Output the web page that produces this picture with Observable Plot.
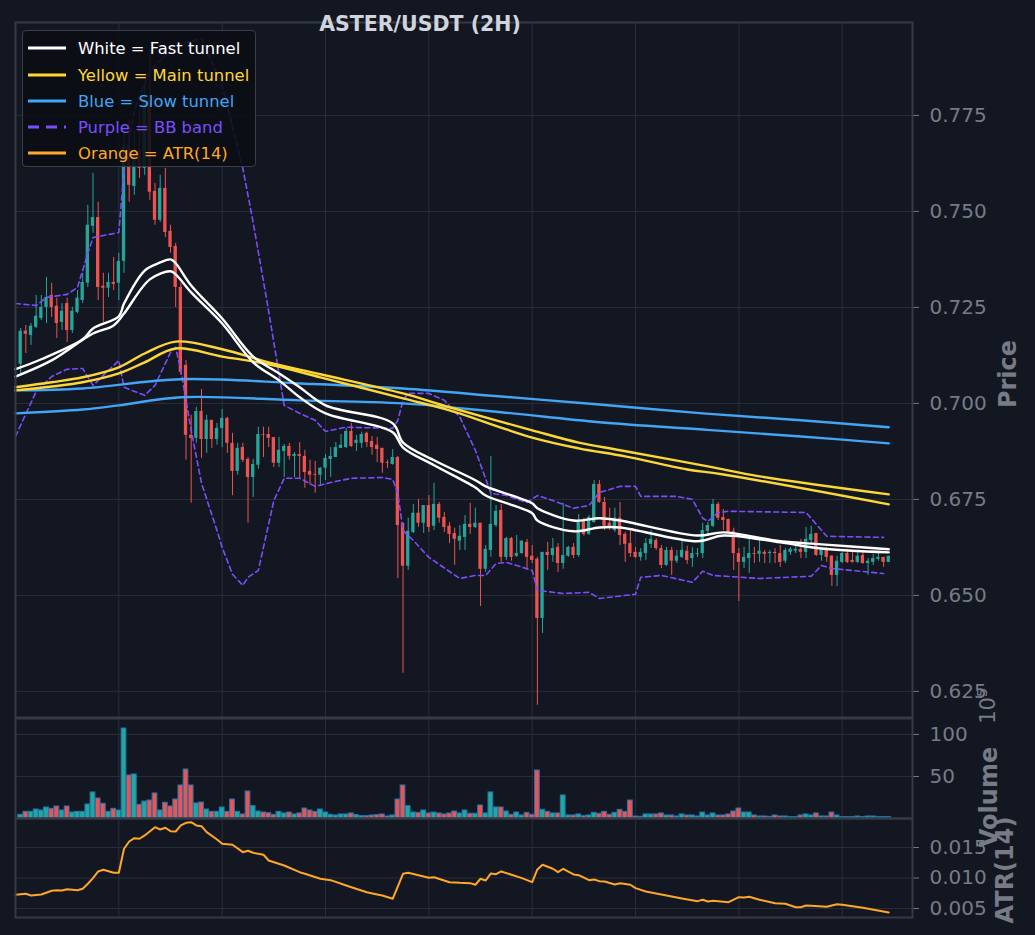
<!DOCTYPE html>
<html><head><meta charset="utf-8">
<script src="https://cdn.jsdelivr.net/npm/d3@7"></script>
<script src="https://cdn.jsdelivr.net/npm/@observablehq/plot@0.6"></script>
<style>
html,body{margin:0;padding:0;background:#131722;}
#root{position:relative;width:1035px;height:935px;background:#131722;overflow:hidden;font-family:"DejaVu Sans",sans-serif;}
.lbl{position:absolute;white-space:nowrap;transform:translate(-50%,-50%) rotate(-90deg);color:#787b86;font-weight:bold;font-size:24px;}
#legend{position:absolute;left:22px;top:30px;width:234px;height:137px;background:rgba(11,14,20,0.88);border:1px solid #3a3e48;border-radius:4px;box-sizing:border-box;}
.row{position:absolute;left:5px;height:20px;display:flex;align-items:center;font-size:16.4px;white-space:nowrap;}
.row svg{margin-right:12px;}
</style></head><body><div id="root"></div>
<script>
// ---- data (candle index 1..169, 2H candles) ----
const open = [.7102,.7188,.7177,.7198,.7221,.7250,.7281,.7253,.7211,.7260,
.7190,.7237,.7268,.7313,.7461,.7484,.7305,.7300,.7315,.7313,
.7370,.7664,.7565,.7659,.7612,.7789,.7552,.7477,.7560,.7448,
.7409,.7302,.7099,.6917,.6909,.6979,.6906,.6956,.6906,.6935,
.6961,.6896,.6823,.6885,.6854,.6807,.6839,.6919,.6919,.6911,
.6844,.6875,.6888,.6862,.6867,.6862,.6823,.6815,.6813,.6831,
.6854,.6859,.6883,.6885,.6927,.6896,.6896,.6922,.6901,.6891,
.6883,.6846,.6841,.6859,.6688,.6576,.6664,.6714,.6688,.6734,
.6680,.6737,.6703,.6680,.6661,.6641,.6651,.6685,.6677,.6688,
.6568,.6617,.6682,.6721,.6599,.6648,.6602,.6609,.6638,.6602,
.6594,.6440,.6612,.6604,.6625,.6583,.6602,.6625,.6604,.6693,
.6659,.6690,.6789,.6742,.6688,.6669,.6701,.6659,.6635,.6612,
.6599,.6609,.6633,.6643,.6622,.6578,.6617,.6589,.6599,.6615,
.6596,.6607,.6609,.6667,.6680,.6737,.6703,.6698,.6667,.6609,
.6586,.6596,.6609,.6607,.6612,.6609,.6612,.6609,.6589,.6612,
.6615,.6620,.6612,.6643,.6661,.6604,.6620,.6602,.6552,.6586,
.6609,.6591,.6586,.6604,.6583,.6586,.6594,.6599,.6586];
const high = [.7195,.7203,.7208,.7281,.7281,.7328,.7313,.7274,.7260,.7274,
.7250,.7294,.7339,.7516,.7599,.7524,.7339,.7339,.7380,.7391,
.7724,.7737,.7706,.7763,.7828,.7906,.7573,.7594,.7612,.7464,
.7417,.7313,.7112,.6969,.6990,.7036,.6969,.6956,.6948,.6984,
.6964,.6922,.6896,.6896,.6859,.6854,.6938,.6938,.6938,.6911,
.6911,.6893,.6896,.6872,.6898,.6878,.6852,.6849,.6833,.6867,
.6885,.6898,.6919,.6935,.6948,.6917,.6925,.6925,.6914,.6911,
.6883,.6852,.6880,.6862,.6688,.6701,.6737,.6750,.6734,.6760,
.6792,.6742,.6716,.6690,.6675,.6682,.6708,.6740,.6727,.6688,
.6630,.6862,.6734,.6737,.6651,.6651,.6656,.6643,.6646,.6630,
.6599,.6612,.6638,.6648,.6635,.6740,.6628,.6635,.6711,.6701,
.6708,.6799,.6799,.6755,.6727,.6727,.6742,.6664,.6669,.6625,
.6622,.6648,.6669,.6648,.6630,.6625,.6625,.6617,.6646,.6628,
.6625,.6622,.6688,.6690,.6750,.6742,.6724,.6698,.6675,.6622,
.6625,.6646,.6625,.6643,.6617,.6617,.6622,.6630,.6622,.6625,
.6630,.6646,.6677,.6680,.6661,.6625,.6625,.6604,.6602,.6612,
.6620,.6612,.6615,.6612,.6596,.6607,.6609,.6599,.6602];
const low = [.7078,.7130,.7151,.7195,.7216,.7208,.7224,.7169,.7190,.7159,
.7182,.7234,.7260,.7302,.7443,.7268,.7211,.7276,.7294,.7268,
.7339,.7524,.7542,.7586,.7594,.7529,.7464,.7471,.7432,.7391,
.7250,.7073,.6852,.6740,.6896,.6857,.6870,.6883,.6891,.6885,
.6870,.6760,.6813,.6846,.6688,.6755,.6828,.6859,.6885,.6833,
.6833,.6807,.6852,.6807,.6805,.6779,.6787,.6766,.6784,.6799,
.6807,.6859,.6883,.6883,.6885,.6875,.6883,.6885,.6865,.6846,
.6818,.6831,.6839,.6544,.6297,.6565,.6661,.6677,.6661,.6664,
.6669,.6688,.6664,.6635,.6578,.6617,.6617,.6659,.6674,.6471,
.6560,.6599,.6677,.6586,.6591,.6589,.6599,.6607,.6565,.6583,
.6214,.6401,.6565,.6586,.6560,.6568,.6599,.6596,.6599,.6654,
.6656,.6688,.6740,.6669,.6669,.6664,.6630,.6586,.6599,.6596,
.6589,.6591,.6622,.6617,.6570,.6576,.6552,.6583,.6596,.6581,
.6573,.6599,.6596,.6659,.6677,.6695,.6669,.6659,.6565,.6484,
.6570,.6557,.6583,.6586,.6583,.6583,.6583,.6573,.6583,.6604,
.6609,.6596,.6596,.6635,.6602,.6589,.6586,.6523,.6523,.6583,
.6583,.6584,.6583,.6581,.6552,.6578,.6589,.6573,.6586];
const close = [.7188,.7180,.7201,.7227,.7250,.7276,.7250,.7208,.7240,.7190,
.7240,.7274,.7315,.7464,.7484,.7302,.7300,.7315,.7310,.7370,
.7672,.7568,.7659,.7612,.7789,.7550,.7477,.7560,.7445,.7406,
.7302,.7081,.6917,.6909,.6979,.6906,.6956,.6906,.6935,.6961,
.6896,.6823,.6883,.6852,.6807,.6841,.6919,.6917,.6909,.6844,
.6878,.6888,.6862,.6867,.6862,.6820,.6813,.6813,.6831,.6857,
.6862,.6885,.6891,.6927,.6888,.6904,.6919,.6898,.6885,.6880,
.6844,.6844,.6859,.6682,.6576,.6667,.6714,.6688,.6734,.6677,
.6737,.6701,.6677,.6659,.6646,.6654,.6685,.6677,.6688,.6568,
.6620,.6685,.6719,.6599,.6648,.6599,.6609,.6641,.6599,.6591,
.6440,.6612,.6604,.6622,.6583,.6604,.6625,.6604,.6690,.6659,
.6703,.6789,.6742,.6680,.6680,.6701,.6656,.6633,.6609,.6599,
.6612,.6635,.6646,.6622,.6578,.6617,.6589,.6602,.6617,.6591,
.6609,.6609,.6669,.6682,.6737,.6701,.6695,.6664,.6609,.6586,
.6599,.6609,.6607,.6615,.6607,.6612,.6609,.6586,.6617,.6620,
.6620,.6612,.6646,.6659,.6604,.6620,.6599,.6552,.6589,.6609,
.6586,.6586,.6602,.6583,.6589,.6596,.6599,.6586,.6602];
// volume in units of 10^5
const volume = [4.4,7.9,7.9,10.7,9.5,13.1,11.5,14.3,9.5,14.3,
7.1,7.9,7.9,16.7,31.0,23.8,17.5,7.9,11.5,9.5,
107.1,51.2,52.4,16.3,20.2,21.4,29.8,9.5,18.7,14.3,
22.6,39.3,58.3,39.3,17.9,19.0,10.7,7.9,7.9,13.1,
7.9,22.6,7.9,4.8,32.1,14.7,8.3,7.1,6.3,4.4,
7.9,6.0,7.1,4.8,6.0,11.9,9.5,7.9,10.7,7.1,
4.4,3.6,4.8,4.8,6.0,4.0,2.8,2.8,3.6,4.0,
4.8,2.4,3.6,22.6,39.3,14.7,7.1,6.7,9.5,6.0,
7.1,6.0,4.8,6.0,8.3,6.0,9.5,5.6,5.6,15.5,
6.0,31.0,13.1,13.1,8.3,4.4,7.1,3.6,6.7,4.4,
57.1,10.3,7.9,6.0,6.0,27.4,3.6,3.6,4.8,2.8,
3.6,6.7,5.6,7.9,4.4,6.7,10.3,7.9,21.4,2.4,
2.0,4.8,4.8,4.8,6.0,3.6,3.6,2.4,4.8,3.6,
3.6,2.4,7.1,3.6,6.0,3.6,3.6,4.8,8.3,11.9,
7.1,7.1,3.6,2.4,2.4,2.0,3.6,2.4,2.4,1.6,
1.6,3.6,4.8,3.6,6.0,2.4,2.4,7.1,3.6,1.6,
1.6,1.6,2.4,1.6,2.4,2.4,1.6,1.6,1.6];

// indicator lines: vertices (candle index, value)
const whiteUpIdx = [0,5,13,15,20,21,25,28,30,31,34,40,46,51,55,60,73,75,81,89,91,100,101,108,113,117,132,137,148,156,169];
const whiteUpVal = [.7089,.7115,.7167,.7195,.7227,.7260,.7346,.7367,.7375,.7365,.7307,.7221,.7122,.7078,.7042,.6995,.6948,.6898,.6852,.6800,.6784,.6740,.6727,.6695,.6701,.6695,.6656,.6664,.6641,.6633,.6620];
const whiteLoIdx = [0,7,15,19,21,26,30,31,34,40,46,51,55,60,73,75,81,89,91,100,101,108,113,117,132,137,148,156,169];
const whiteLoVal = [.7070,.7112,.7182,.7203,.7234,.7323,.7344,.7336,.7289,.7208,.7107,.7060,.7016,.6974,.6925,.6885,.6839,.6781,.6760,.6714,.6695,.6667,.6677,.6677,.6641,.6656,.6638,.6622,.6612];
const yelUpIdx = [0,7,13,20,25,31,40,49,59,75,84,100,109,117,134,144,169];
const yelUpVal = [.7042,.7055,.7068,.7094,.7130,.7161,.7141,.7107,.7076,.7026,.6990,.6930,.6898,.6878,.6836,.6810,.6763];
const yelLoIdx = [0,7,13,20,25,31,40,49,59,75,84,100,109,118,130,137,169];
const yelLoVal = [.7034,.7044,.7055,.7078,.7107,.7143,.7122,.7102,.7068,.7013,.6982,.6911,.6883,.6862,.6828,.6815,.6737];
const blueUpIdx = [0,13,32,55,75,94,113,133,152,169];
const blueUpVal = [.7034,.7039,.7063,.7052,.7039,.7018,.6997,.6974,.6956,.6938];
const blueLoIdx = [0,13,20,32,55,75,94,113,133,152,169];
const blueLoVal = [.6974,.6984,.6995,.7016,.7008,.7000,.6977,.6951,.6932,.6914,.6896];
const bbUpIdx = [0,4,6,10,12,14,15,20,21,23,26,31,36,40,44,46,49,52,55,58,60,64,73,74,75,76,80,83,86,89,92,95,99,101,104,108,111,113,117,120,121,128,131,133,134,136,138,153,157,168];
const bbUpVal = [.7260,.7255,.7276,.7284,.7302,.7391,.7432,.7445,.7607,.7763,.7867,.7932,.7951,.7828,.7612,.7471,.7240,.6995,.6974,.6956,.6927,.6938,.6935,.6956,.7008,.7026,.7026,.7008,.6964,.6878,.6766,.6760,.6742,.6760,.6747,.6727,.6734,.6768,.6784,.6784,.6758,.6758,.6750,.6701,.6693,.6716,.6719,.6716,.6654,.6651];
const bbLoIdx = [0,4,7,10,13,15,20,21,25,27,30,31,32,34,36,39,40,42,44,45,47,50,52,55,58,59,61,65,71,73,74,75,77,80,86,89,91,93,95,100,101,106,111,113,120,121,125,131,133,135,144,154,156,158,168];
const bbLoVal = [.6914,.7031,.7070,.7089,.7091,.7047,.7112,.7042,.7021,.7047,.7133,.7146,.7086,.6930,.6792,.6669,.6625,.6555,.6526,.6547,.6565,.6747,.6805,.6805,.6784,.6787,.6794,.6805,.6807,.6802,.6766,.6669,.6643,.6599,.6544,.6552,.6552,.6583,.6586,.6565,.6513,.6505,.6508,.6492,.6503,.6547,.6552,.6534,.6563,.6552,.6544,.6550,.6578,.6570,.6557];
const atrIdx = [0,2,3,5,7,8,9,10,12,13,14,15,16,17,18,19,20,21,22,23,24,25,27,28,29,30,31,32,33,34,35,36,37,39,40,42,44,45,46,48,49,52,55,56,59,61,64,65,68,70,71,73,75,76,80,81,84,86,88,89,90,91,92,93,94,96,98,100,101,102,104,105,106,108,109,111,112,113,114,116,117,119,120,122,124,125,127,129,132,133,134,135,138,140,141,142,144,147,149,151,152,153,154,157,159,160,164,169];
const atrVal = [.00725,.00741,.00713,.00730,.00790,.00800,.00795,.00816,.00800,.00823,.00905,.00997,.01107,.01134,.01111,.01085,.01085,.01479,.01598,.01652,.01643,.01697,.01833,.01795,.01823,.01767,.01762,.01861,.01905,.01915,.01861,.01849,.01751,.01631,.01561,.01544,.01423,.01446,.01413,.01380,.01287,.01205,.01095,.01069,.00987,.00964,.00877,.00849,.00767,.00730,.00713,.00659,.01069,.01085,.01003,.01013,.00931,.00921,.00915,.00889,.00987,.00959,.01074,.01062,.01107,.01052,.00997,.00931,.01139,.01216,.01151,.01095,.01151,.01057,.01046,.00964,.00975,.00948,.00943,.00893,.00915,.00889,.00833,.00779,.00746,.00730,.00697,.00664,.00620,.00643,.00615,.00626,.00603,.00685,.00680,.00692,.00643,.00587,.00577,.00521,.00521,.00549,.00544,.00528,.00570,.00561,.00511,.00434];

const xGridTicks = [20,40,60,80,100,120,140,160];
const priceTicks = [0.625,0.65,0.675,0.7,0.725,0.75,0.775];
const volTicks = [50,100];
const atrTicks = [0.005,0.01,0.015];

// ---- styling ----
const UP = "#26a69a", DOWN = "#ef5350";
const GRID = "#2a2e39", FRAME = "#363a45", TXT = "#787b86";
const candles = open.map((o,k)=>({i:k+1,o,h:high[k],l:low[k],c:close[k],v:volume[k],col: close[k]>=o?UP:DOWN}));
const pts = (ix,vals)=>ix.map((i,k)=>({i,p:vals[k]}));

const common = {
  width:1035, marginLeft:15, marginRight:123,
  x:{domain:[0,173.6], axis:null},
  color:{type:"identity"},
  style:{background:"transparent", color:TXT, fontFamily:"DejaVu Sans, sans-serif", fontSize:"20px", overflow:"visible"}
};
const axis = (ticks, fmt)=>Plot.axisY({ticks, anchor:"right", tickSize:6, tickPadding:11, tickFormat:fmt, label:null, fontSize:20, stroke:TXT});
const grids = (ticks)=>[
  Plot.gridX(xGridTicks,{stroke:GRID, strokeOpacity:1, strokeWidth:1}),
  Plot.gridY(ticks,{stroke:GRID, strokeOpacity:1, strokeWidth:1})
];
const smooth = "catmull-rom";

const p1 = Plot.plot({...common, height:718, marginTop:22, marginBottom:1,
  y:{domain:[0.6182,0.7992], axis:null},
  marks:[
    ...grids(priceTicks),
    Plot.ruleX(candles,{x:"i", y1:"l", y2:"h", stroke:"col", strokeWidth:1}),
    Plot.rect(candles,{x1:d=>d.i-0.32, x2:d=>d.i+0.32, y1:"o", y2:"c", fill:"col"}),
    Plot.line(pts(bbUpIdx,bbUpVal),{x:"i", y:"p", stroke:"#7c4dff", strokeWidth:1.6, strokeDasharray:"5,3.5"}),
    Plot.line(pts(bbLoIdx,bbLoVal),{x:"i", y:"p", stroke:"#7c4dff", strokeWidth:1.6, strokeDasharray:"5,3.5"}),
    Plot.line(pts(blueUpIdx,blueUpVal),{x:"i", y:"p", stroke:"#42a5f5", strokeWidth:2.4, curve:smooth}),
    Plot.line(pts(blueLoIdx,blueLoVal),{x:"i", y:"p", stroke:"#42a5f5", strokeWidth:2.4, curve:smooth}),
    Plot.line(pts(yelUpIdx,yelUpVal),{x:"i", y:"p", stroke:"#fdd835", strokeWidth:2.4, curve:smooth}),
    Plot.line(pts(yelLoIdx,yelLoVal),{x:"i", y:"p", stroke:"#fdd835", strokeWidth:2.4, curve:smooth}),
    Plot.line(pts(whiteUpIdx,whiteUpVal),{x:"i", y:"p", stroke:"#ffffff", strokeWidth:2.4, curve:smooth}),
    Plot.line(pts(whiteLoIdx,whiteLoVal),{x:"i", y:"p", stroke:"#ffffff", strokeWidth:2.4, curve:smooth}),
    axis(priceTicks, d3.format(".3f")),
    Plot.frame({stroke:FRAME, strokeWidth:2})
  ]});

const p2 = Plot.plot({...common, height:101, marginTop:1, marginBottom:0,
  y:{domain:[0,119], axis:null},
  marks:[
    ...grids(volTicks),
    Plot.rect(candles,{x1:d=>d.i-0.46, x2:d=>d.i+0.46, y1:0, y2:"v", fill:"col", stroke:"#1f77b4", strokeWidth:1}),
    axis(volTicks, d3.format("d")),
    Plot.frame({stroke:FRAME, strokeWidth:2})
  ]});

const p3 = Plot.plot({...common, height:118, marginTop:1, marginBottom:18,
  y:{domain:[0.00352,0.01975], axis:null},
  marks:[
    ...grids(atrTicks),
    Plot.line(pts(atrIdx,atrVal),{x:"i", y:"p", stroke:"#ffa726", strokeWidth:2}),
    axis(atrTicks, d3.format(".3f")),
    Plot.frame({stroke:FRAME, strokeWidth:2})
  ]});

const root = document.getElementById("root");
[[p1,0],[p2,717],[p3,817]].forEach(([svg,top])=>{
  svg.style.position="absolute"; svg.style.left="0px"; svg.style.top=top+"px";
  root.appendChild(svg);
});

// title
const title = document.createElement("div");
title.textContent = "ASTER/USDT (2H)";
Object.assign(title.style,{position:"absolute", left:"420px", top:"24px", transform:"translate(-50%,-50%)", color:"#d1d4dc", fontWeight:"bold", fontSize:"20.5px", whiteSpace:"nowrap"});
root.appendChild(title);

// axis labels
function lbl(text, x, y, size, weight){
  const d = document.createElement("div");
  d.className="lbl"; d.innerHTML=text;
  d.style.left=x+"px"; d.style.top=y+"px";
  if(size) d.style.fontSize=size+"px";
  if(weight) d.style.fontWeight=weight;
  root.appendChild(d);
}
lbl("Price",1008,374);
lbl("Volume",989,797);
lbl("ATR(14)",1005,870);
lbl("10<sup style='font-size:14px'>5</sup>",987,706,21,"normal");

// legend
const legendItems = [
  {t:"White = Fast tunnel", c:"#ffffff", dash:null},
  {t:"Yellow = Main tunnel", c:"#fdd835", dash:null},
  {t:"Blue = Slow tunnel", c:"#42a5f5", dash:null},
  {t:"Purple = BB band", c:"#7c4dff", dash:"11,7"},
  {t:"Orange = ATR(14)", c:"#ffa726", dash:null}
];
const lg = document.createElement("div"); lg.id="legend"; root.appendChild(lg);
const rowY = [17,44,70,96,122];
legendItems.forEach((it,k)=>{
  const r = document.createElement("div"); r.className="row";
  r.style.top=(rowY[k]-10)+"px"; r.style.color=it.c;
  r.innerHTML = `<svg width="38" height="6"><line x1="0" x2="38" y1="3" y2="3" stroke="${it.c}" stroke-width="3.2" ${it.dash?`stroke-dasharray="${it.dash}"`:""}/></svg><span>${it.t}</span>`;
  lg.appendChild(r);
});
</script></body></html>
